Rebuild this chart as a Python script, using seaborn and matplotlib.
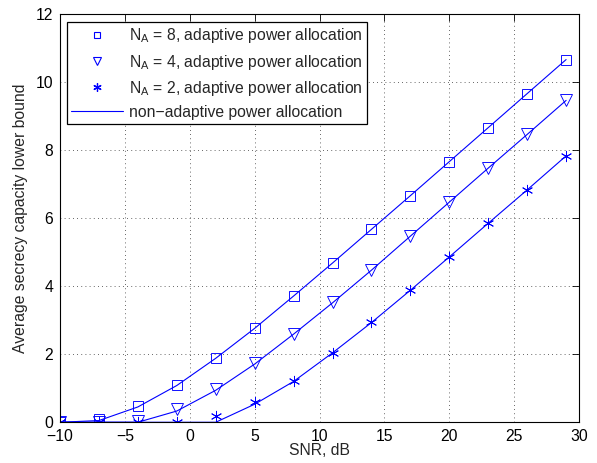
import numpy as np
import matplotlib
matplotlib.use("Agg")
import matplotlib.pyplot as plt
import seaborn as sns
from matplotlib.lines import Line2D

# SNR grid (dB)
snr = [-10, -7, -4, -1, 2, 5, 8, 11, 14, 17, 20, 23, 26, 29]

# adaptive power allocation (markers)
adapt_8 = [0.0, 0.10, 0.48, 1.10, 1.90, 2.78, 3.72, 4.69, 5.68, 6.66, 7.66, 8.66, 9.66, 10.66]
adapt_4 = [0.0, 0.0, 0.05, 0.38, 0.97, 1.73, 2.60, 3.52, 4.48, 5.48, 6.47, 7.47, 8.46, 9.46]
adapt_2 = [0.0, 0.0, 0.0, 0.0, 0.17, 0.59, 1.22, 2.05, 2.94, 3.89, 4.86, 5.85, 6.83, 7.83]

# non-adaptive power allocation (lines)
fixed_8 = [0.0, 0.05, 0.45, 1.08, 1.88, 2.76, 3.71, 4.68, 5.67, 6.66, 7.66, 8.66, 9.66, 10.66]
fixed_4 = [0.0, 0.0, 0.0, 0.33, 0.94, 1.71, 2.59, 3.51, 4.47, 5.47, 6.47, 7.47, 8.46, 9.46]
fixed_2 = [0.0, 0.0, 0.0, 0.0, 0.0, 0.53, 1.20, 2.04, 2.93, 3.88, 4.86, 5.85, 6.83, 7.83]

sns.set_style("white")
plt.rcParams['font.family'] = ['Liberation Sans', 'DejaVu Sans']
plt.rcParams['mathtext.fontset'] = 'custom'
plt.rcParams['mathtext.rm'] = 'Liberation Sans'
plt.rcParams['mathtext.it'] = 'Liberation Sans'
fs = 11.3

fig = plt.figure(figsize=(5.97, 4.63), dpi=100)
ax = fig.add_axes([0.1005, 0.088, 0.8695, 0.8818])

blue = (0, 0, 1)

# lines first
for vals in (fixed_8, fixed_4, fixed_2):
    sns.lineplot(x=snr, y=vals, ax=ax, color=blue, linewidth=0.8, legend=False)

# adaptive markers
for vals, mk, size in ((adapt_8, 's', 7), (adapt_4, 'v', 8), (adapt_2, (6, 2, 0), 8)):
    sns.lineplot(x=snr, y=vals, ax=ax, marker=mk, linestyle='none', color=blue,
                 markerfacecolor='none', markeredgecolor=blue, markersize=size,
                 markeredgewidth=0.65, legend=False)

ax.set_xlim(-10, 30)
ax.set_ylim(0, 12)
ax.set_xticks(np.arange(-10, 31, 5))
ax.set_yticks(np.arange(0, 13, 2))
ax.set_xticklabels(['\u221210', '\u22125', '0', '5', '10', '15', '20', '25', '30'])
ax.tick_params(direction='in', length=5, width=0.6, top=True, right=True,
               labelsize=fs, colors='black')
ax.tick_params(axis='y', pad=5)
ax.tick_params(axis='x', pad=5)
ax.grid(True, linestyle=(0, (1, 4)), color='black', linewidth=0.6, alpha=0.8)
for s in ax.spines.values():
    s.set_visible(True)
    s.set_color('black')
    s.set_linewidth(0.8)

ax.set_xlabel('SNR, dB', fontsize=fs, labelpad=-1)
ax.set_ylabel('Average secrecy capacity lower bound', fontsize=fs, labelpad=5)

handles = [
    Line2D([], [], marker='s', linestyle='none', mfc='none', mec=blue, ms=5, mew=0.8),
    Line2D([], [], marker='v', linestyle='none', mfc='none', mec=blue, ms=6, mew=0.8),
    Line2D([], [], marker=(6, 2, 0), linestyle='none', mfc='none', mec=blue, ms=6, mew=0.9),
    Line2D([], [], color=blue, linewidth=0.8),
]
labels = [r'N$_\mathrm{A}$ = 8, adaptive power allocation',
          r'N$_\mathrm{A}$ = 4, adaptive power allocation',
          r'N$_\mathrm{A}$ = 2, adaptive power allocation',
          'non\u2212adaptive power allocation']
leg = ax.legend(handles, labels, loc='upper left', bbox_to_anchor=(0.013, 0.981),
                fontsize=fs, frameon=True, fancybox=False, framealpha=1,
                edgecolor='black', numpoints=1, handlelength=3.3, handletextpad=0.35,
                labelspacing=0.45, borderpad=0.3, borderaxespad=0)
leg.get_frame().set_linewidth(0.9)

fig.savefig('out.png', dpi=100)
